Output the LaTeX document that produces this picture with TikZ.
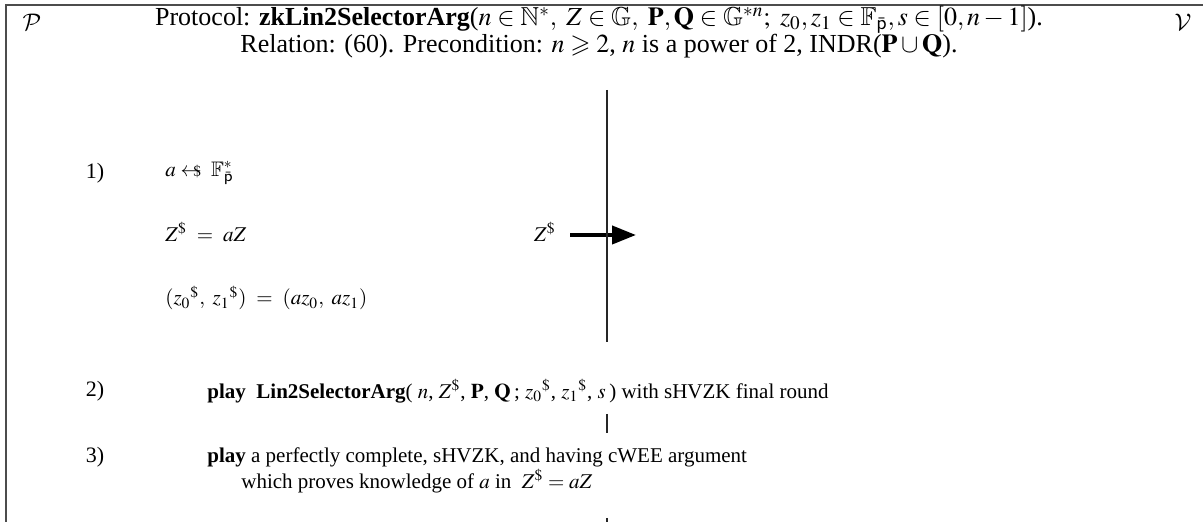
\documentclass[tikz,border=0pt]{standalone}
\usepackage{amssymb}
\usepackage{mathptmx}
\usepackage{fontspec}
\setmainfont{Liberation Serif}
\usetikzlibrary{positioning}
\usetikzlibrary{arrows.meta}

\DeclareMathAlphabet{\mathcalcm}{OMS}{cmsy}{m}{n}
\newcommand{\sampleto}{\mathrel{\leftarrow\mkern-11mu{\scriptstyle\$}}}
\newcommand{\pbar}{\bar{\mathsf{p}}}

\tikzstyle{txt}=[anchor=west, inner sep=0pt, font=\fontsize{10.5}{12}\selectfont]
\tikzstyle{head}=[inner sep=0pt, font=\fontsize{13}{15}\selectfont]
\tikzstyle{stepnum}=[inner sep=0pt, font=\fontsize{11}{13}\selectfont]
\tikzstyle{party}=[inner sep=0pt, font=\fontsize{13}{15}\selectfont]
\tikzstyle{lifeline}=[line width=1pt, draw=black!85]
\tikzstyle{frame}=[line width=0.8pt, draw=black!70]
\tikzstyle{myarrow}=[-{Triangle[length=12pt, width=9pt]}, line width=2pt]

\begin{document}
\begin{tikzpicture}[x=0.5pt, y=-0.5pt]
    \useasboundingbox (0,0) rectangle (1203,522);

    % frame
    \coordinate (tl) at (6,5);
    \draw[frame] (tl -| 1203,0) -- (tl) -- (tl |- 0,522);

    % parties
    \node[party] (P) at (32,22) {$\mathcalcm{P}$};
    \node[party] (V) at (1183,22) {$\mathcalcm{V}$};

    % header
    \node[head] (title) at (599,20) {Protocol: \textbf{zkLin2SelectorArg}($n \in \mathbb{N}^{*},\ Z \in \mathbb{G},\ \mathbf{P}, \mathbf{Q} \in \mathbb{G}^{*n};\ z_0, z_1 \in \mathbb{F}_{\pbar}, s \in [0, n-1]$).};
    \node[head] (rel) at (599,46) {Relation: (60). Precondition: $n \geqslant 2$, $n$ is a power of 2, INDR($\mathbf{P} \cup \mathbf{Q}$).};

    % step 1
    \node[stepnum] (s1) at (95,173) {1)};
    \node[txt] (a) at (165,173) {$a \sampleto \ \mathbb{F}_{\pbar}^{*}$};
    \node[txt] (zs) at (165,232) {$Z^{\$} \ = \ aZ$};
    \node[txt] (zz) at (165,298) {$({z_0}^{\$},\ {z_1}^{\$}) \ = \ (a z_0,\ a z_1)$};
    \node[txt, anchor=east] (msg) at (556,232) {$Z^{\$}$};
    \coordinate (msgend) at (636,235);
    \draw[myarrow] ([xshift=7pt]msg.east |- msgend) -- (msgend);

    % step 2
    \node[stepnum] (s2) at (95,391) {2)};
    \node[txt] (play2) at (207,391) {\textbf{play} \ \textbf{Lin2SelectorArg}( $n$, $Z^{\$}$, $\mathbf{P}$, $\mathbf{Q}$\,; ${z_0}^{\$}$, ${z_1}^{\$}$, $s$\,) with sHVZK final round};

    % step 3
    \node[stepnum] (s3) at (95,457) {3)};
    \node[txt] (play3) at (207,457) {\textbf{play} a perfectly complete, sHVZK, and having cWEE argument};
    \node[txt, below right=6pt and 17pt of play3.west] (which) {which proves knowledge of $a$ in \ $Z^{\$} = aZ$};

    % lifeline
    \coordinate (l1a) at (607,90);
    \coordinate (l1b) at (607,342);
    \coordinate (l2a) at (607,414);
    \coordinate (l2b) at (607,433);
    \coordinate (l3a) at (607,518);
    \coordinate (l3b) at (607,522);
    \draw[lifeline] (l1a) -- (l1b);
    \draw[lifeline] (l2a) -- (l2b);
    \draw[lifeline] (l3a) -- (l3b);
\end{tikzpicture}
\end{document}
